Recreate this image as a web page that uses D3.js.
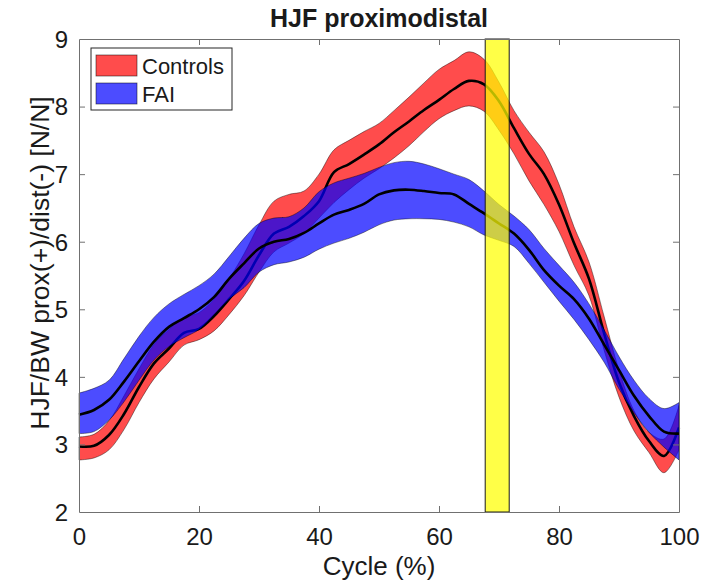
<!DOCTYPE html>
<html>
<head>
<meta charset="utf-8">
<script src="https://cdn.jsdelivr.net/npm/d3@7"></script>
<style>
  html, body { margin: 0; padding: 0; background: #fff; }
  svg { display: block; }
  text { font-family: "Liberation Sans", Arial, Helvetica, sans-serif; fill: #1a1a1a; }
</style>
</head>
<body>
<svg id="chart" width="712" height="583"></svg>
<script>
// ---- data ----
const cycle = [0,2.5,5,7.5,10,12.5,15,17.5,20,22.5,25,27.5,30,32.5,35,37.5,40,42.5,45,47.5,50,52.5,55,57.5,60,62.5,65,67.5,70,72.5,75,77.5,80,82.5,85,87.5,90,92.5,95,97.5,100];

const controlsMean  = [2.97,2.98,3.14,3.45,3.85,4.20,4.42,4.65,4.71,4.90,5.15,5.42,5.80,6.12,6.22,6.38,6.60,7.03,7.15,7.29,7.44,7.62,7.78,7.95,8.10,8.26,8.38,8.33,8.08,7.68,7.30,7.00,6.55,5.98,5.45,4.65,3.92,3.42,3.05,2.83,3.25];
const controlsUpper = [3.11,3.15,3.35,3.72,4.12,4.48,4.70,4.88,4.95,5.15,5.45,5.82,6.25,6.60,6.70,6.75,7.00,7.36,7.50,7.63,7.75,7.94,8.14,8.35,8.55,8.68,8.81,8.70,8.36,7.94,7.62,7.33,6.85,6.22,5.70,4.90,4.10,3.50,3.18,3.08,3.58];
const controlsLower = [2.77,2.80,2.92,3.22,3.62,3.97,4.22,4.47,4.55,4.68,4.92,5.20,5.55,5.85,5.98,6.12,6.35,6.58,6.77,6.94,7.08,7.24,7.42,7.63,7.82,7.94,8.01,7.93,7.65,7.30,6.90,6.55,6.15,5.65,5.20,4.40,3.70,3.20,2.88,2.58,2.92];

const faiMean  = [3.44,3.51,3.66,3.93,4.23,4.52,4.74,4.87,5.00,5.18,5.45,5.68,5.90,6.00,6.04,6.13,6.27,6.40,6.47,6.56,6.70,6.76,6.77,6.75,6.72,6.70,6.56,6.42,6.27,6.12,5.88,5.58,5.35,5.15,4.86,4.48,4.10,3.72,3.42,3.19,3.16];
const faiUpper = [3.76,3.83,3.95,4.27,4.60,4.88,5.08,5.22,5.35,5.52,5.78,6.05,6.27,6.35,6.37,6.50,6.74,6.87,6.94,7.01,7.10,7.17,7.19,7.15,7.08,7.00,6.92,6.75,6.55,6.38,6.18,5.90,5.65,5.40,5.08,4.70,4.30,3.95,3.68,3.53,3.62];
const faiLower = [3.16,3.19,3.36,3.63,3.95,4.25,4.45,4.58,4.70,4.92,5.15,5.32,5.55,5.66,5.70,5.77,5.89,5.98,6.05,6.14,6.25,6.32,6.34,6.34,6.33,6.29,6.22,6.10,6.02,5.93,5.68,5.40,5.12,4.85,4.55,4.22,3.82,3.47,3.18,2.96,2.77];

const highlight = [67.7, 71.7];
const xTicks = [0,20,40,60,80,100];
const yTicks = [2,3,4,5,6,7,8,9];
const seriesNames = ["Controls","FAI"];

// ---- layout ----
const svg = d3.select("#chart");
const L = 79, R = 679, T = 39, B = 512;
const x = d3.scaleLinear().domain([0,100]).range([L,R]);
const y = d3.scaleLinear().domain([2,9]).range([B,T]);

const area = (lo, hi) => d3.area()
  .x((d,i) => x(cycle[i]))
  .y0((d,i) => y(lo[i]))
  .y1((d,i) => y(hi[i]))
  .curve(d3.curveCatmullRom.alpha(0.5));
const line = d3.line()
  .x((d,i) => x(cycle[i]))
  .y(d => y(d))
  .curve(d3.curveCatmullRom.alpha(0.5));

const g = svg.append("g");

// Controls band + mean
g.append("path").attr("d", area(controlsLower, controlsUpper)(cycle))
  .attr("fill", "#ff0000").attr("fill-opacity", 0.7)
  .attr("stroke", "#000").attr("stroke-opacity", 0.6).attr("stroke-width", 0.7);
g.append("path").attr("d", line(controlsMean))
  .attr("fill", "none").attr("stroke", "#000").attr("stroke-width", 2.6);

// FAI band + mean
g.append("path").attr("d", area(faiLower, faiUpper)(cycle))
  .attr("fill", "#0000ff").attr("fill-opacity", 0.7)
  .attr("stroke", "#000").attr("stroke-opacity", 0.6).attr("stroke-width", 0.7);
g.append("path").attr("d", line(faiMean))
  .attr("fill", "none").attr("stroke", "#000").attr("stroke-width", 2.6);

// highlight region
g.append("rect")
  .attr("x", x(highlight[0])).attr("y", y(9))
  .attr("width", x(highlight[1]) - x(highlight[0]))
  .attr("height", y(2) - y(9))
  .attr("fill", "#ffff00").attr("fill-opacity", 0.72)
  .attr("stroke", "#1a1a1a").attr("stroke-width", 1);

// ---- axes (MATLAB box style, ticks inward) ----
const axisColor = "#707070";
const tickLen = 6;
const fmt = d3.format("d");
const xb = svg.append("g").attr("transform", `translate(0,${B})`)
  .call(d3.axisBottom(x).tickValues(xTicks).tickFormat(fmt).tickSizeInner(-tickLen).tickSizeOuter(0).tickPadding(16));
const xt = svg.append("g").attr("transform", `translate(0,${T})`)
  .call(d3.axisTop(x).tickValues(xTicks).tickSizeInner(-tickLen).tickSizeOuter(0).tickFormat(""));
const yl = svg.append("g").attr("transform", `translate(${L},0)`)
  .call(d3.axisLeft(y).tickValues(yTicks).tickFormat(fmt).tickSizeInner(-tickLen).tickSizeOuter(0).tickPadding(11));
const yr = svg.append("g").attr("transform", `translate(${R},0)`)
  .call(d3.axisRight(y).tickValues(yTicks).tickSizeInner(-tickLen).tickSizeOuter(0).tickFormat(""));

[xb, xt, yl, yr].forEach(a => {
  a.select(".domain").attr("stroke", axisColor).attr("stroke-width", 1);
  a.selectAll(".tick line").attr("stroke", axisColor);
});
// hide end ticks that coincide with the box
xb.selectAll(".tick line").filter(d => d === 0 || d === 100).remove();
xt.selectAll(".tick line").filter(d => d === 0 || d === 100).remove();
yl.selectAll(".tick line").filter(d => d === 2 || d === 9).remove();
yr.selectAll(".tick line").filter(d => d === 2 || d === 9).remove();

[xb, yl].forEach(a => a.selectAll(".tick text")
  .style("font-family", '"Liberation Sans", Arial, sans-serif')
  .style("font-size", "24px").attr("fill", "#1a1a1a"));
xb.selectAll(".tick text").attr("dy", "0.71em");
yl.selectAll(".tick text").attr("dy", "0.35em");

// ---- labels ----
svg.append("text").attr("x", (L + R) / 2).attr("y", 27)
  .attr("text-anchor", "middle").style("font-size", "25px").style("font-weight", "bold")
  .attr("fill", "#000").text("HJF proximodistal");
svg.append("text").attr("x", (L + R) / 2).attr("y", 575)
  .attr("text-anchor", "middle").style("font-size", "26px").text("Cycle (%)");
svg.append("text")
  .attr("transform", `translate(49,263) rotate(-90)`)
  .attr("text-anchor", "middle").style("font-size", "26.5px")
  .text("HJF/BW prox(+)/dist(-) [N/N]");

// ---- legend ----
const leg = svg.append("g");
leg.append("rect").attr("x", 91).attr("y", 48).attr("width", 141).attr("height", 62)
  .attr("fill", "#fff").attr("stroke", "#262626").attr("stroke-width", 1);
const legColors = ["#ff0000", "#0000ff"];
seriesNames.forEach((name, i) => {
  const yy = 55 + i * 28;
  leg.append("rect").attr("x", 96).attr("y", yy).attr("width", 41).attr("height", 21)
    .attr("fill", legColors[i]).attr("fill-opacity", 0.7)
    .attr("stroke", "#000").attr("stroke-opacity", 0.6).attr("stroke-width", 0.8);
  leg.append("text").attr("x", 142).attr("y", yy + 18.5)
    .style("font-size", "22px").text(name);
});
</script>
</body>
</html>
